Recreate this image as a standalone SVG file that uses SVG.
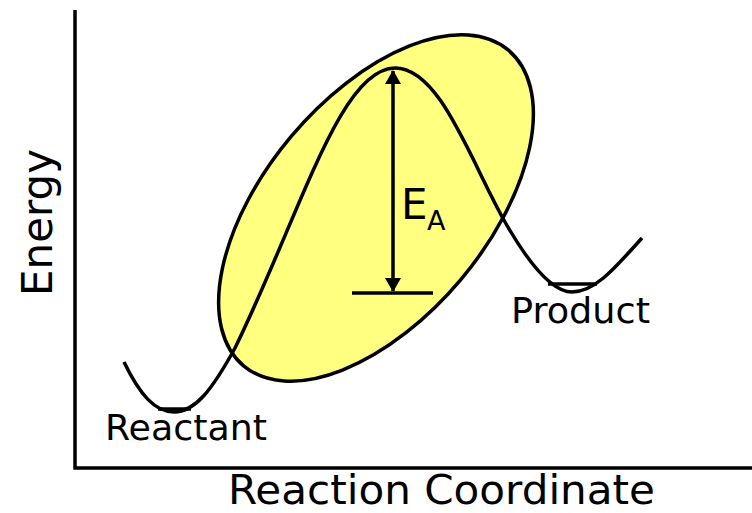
<svg xmlns="http://www.w3.org/2000/svg" width="752" height="513" viewBox="0 0 752 513">
<style>
.ln{fill:none;stroke:#000;stroke-width:3.5;stroke-linecap:butt}
.t{font-family:"DejaVu Sans","Liberation Sans",sans-serif;fill:#000}
</style>
<defs>
<marker id="ah" viewBox="0 0 14 16" refX="13" refY="8" markerWidth="14" markerHeight="16" markerUnits="userSpaceOnUse" orient="auto">
<path d="M0,0 L14,8 L0,16 Z" fill="#000"/>
</marker>
</defs>
<rect width="752" height="513" fill="#fff"/>
<g id="axes">
<path class="ln" d="M75,10 V468 H752"/>
<text class="t" x="228" y="504" font-size="41" textLength="427" lengthAdjust="spacingAndGlyphs">Reaction Coordinate</text>
<text class="t" font-size="42" transform="translate(52,296) rotate(-90)">Energy</text>
</g>
<g id="highlight">
<ellipse cx="376" cy="208" rx="206" ry="111" transform="rotate(-50 376 208)" fill="#ffff80" stroke="#000" stroke-width="3.5"/>
</g>
<g id="curve">
<path class="ln" d="M124,362 C140,395 155,412 174,412 C195,412 212,390 235,348 C300,215 340,68 395,68 C440,68 470,160 505,222 C525,257 550,292 572,292 C595,292 615,268 642,238"/>
<line class="ln" x1="158" y1="409" x2="191" y2="409" stroke-width="2.5"/>
<line class="ln" x1="548" y1="284" x2="597" y2="284" stroke-width="2.5"/>
</g>
<g id="reactant">
<text class="t" x="105" y="440" font-size="35" textLength="162" lengthAdjust="spacingAndGlyphs">Reactant</text>
</g>
<g id="product">
<text class="t" x="511" y="323" font-size="35" textLength="139" lengthAdjust="spacingAndGlyphs">Product</text>
</g>
<g id="connectors">
<line class="ln" x1="393" y1="180" x2="393" y2="71" marker-end="url(#ah)"/>
<line class="ln" x1="393" y1="180" x2="393" y2="291" marker-end="url(#ah)"/>
<line class="ln" x1="352" y1="293" x2="433" y2="293"/>
</g>
<g id="ea">
<text class="t" x="401" y="219" font-size="42">E<tspan x="427" y="230" font-size="27">A</tspan></text>
</g>
</svg>
